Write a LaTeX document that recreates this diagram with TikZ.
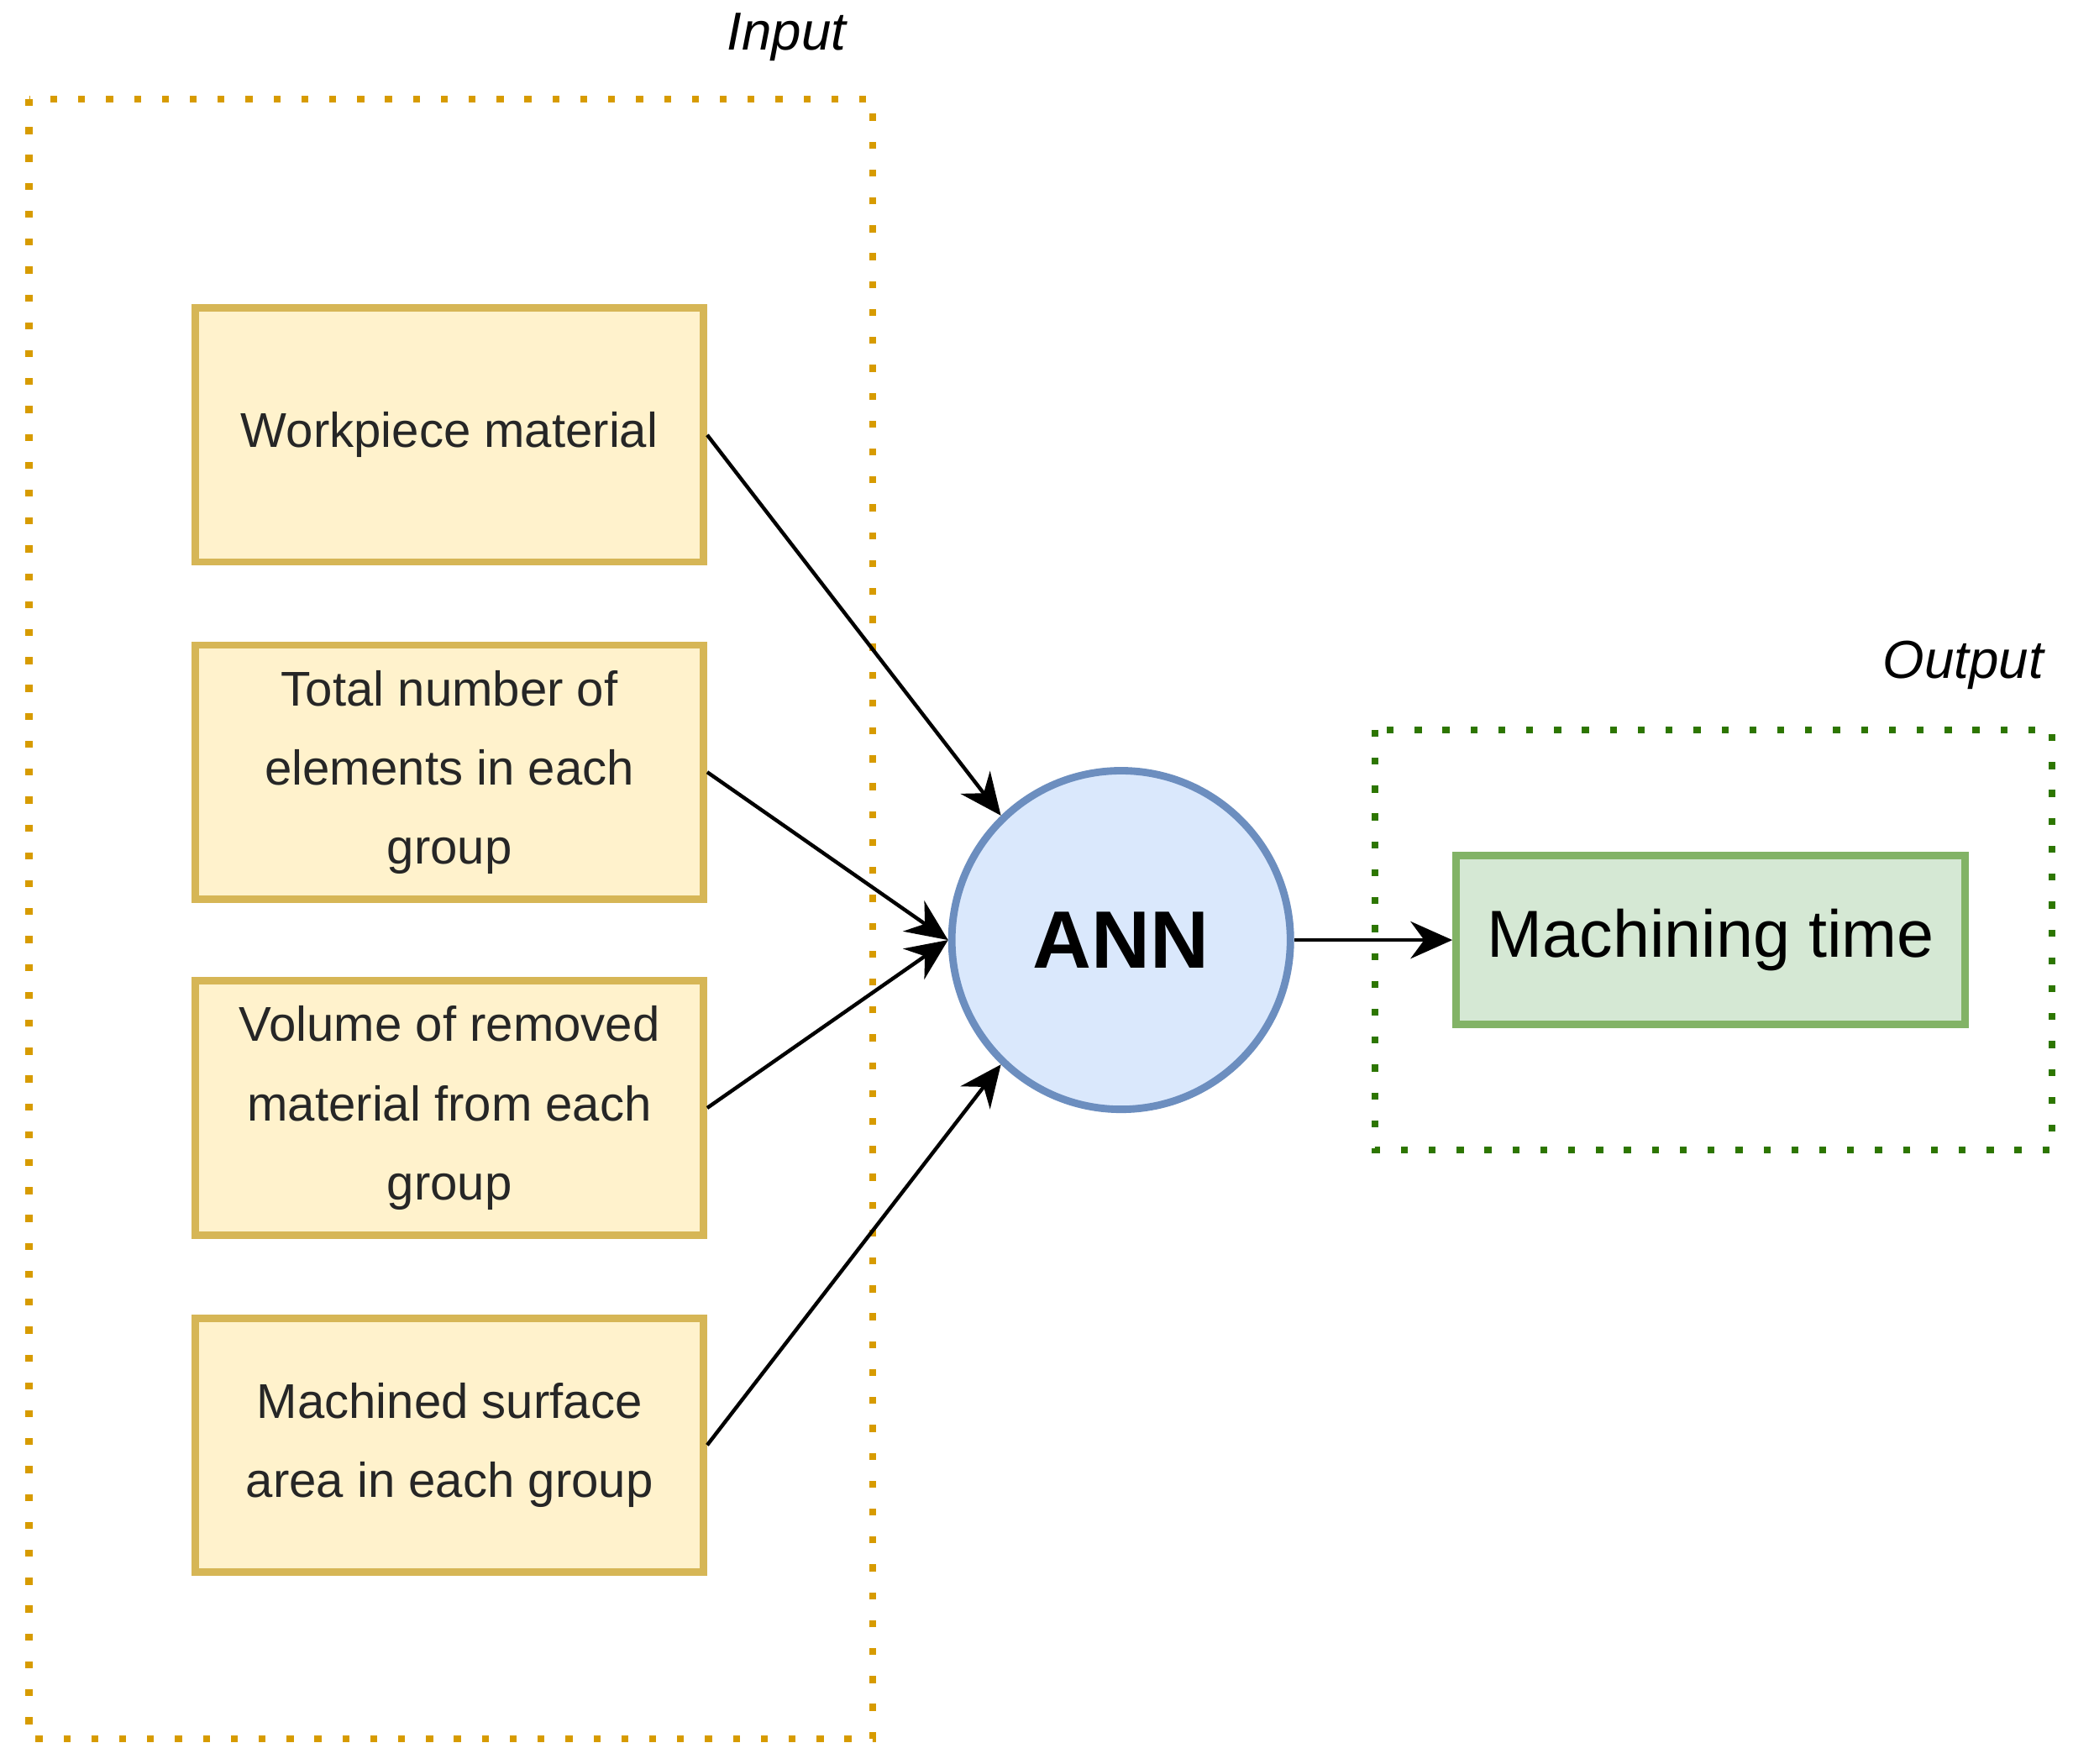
\documentclass[tikz,border=0pt]{standalone}
\usepackage{fontspec}
\setmainfont{Liberation Sans}
\usetikzlibrary{arrows.meta}
\definecolor{yfill}{HTML}{FFF2CC}\definecolor{ydraw}{HTML}{D6B656}
\definecolor{bfill}{HTML}{DAE8FC}\definecolor{bdraw}{HTML}{6C8EBF}
\definecolor{gfill}{HTML}{D5E8D4}\definecolor{gdraw}{HTML}{82B366}
\definecolor{odot}{HTML}{D79B00}\definecolor{gdot}{HTML}{2D7600}
\begin{document}
\begin{tikzpicture}[x=0.01cm,y=-0.01cm,
 inp/.style={draw=ydraw,fill=yfill,line width=1.6pt,minimum width=3.84cm,minimum height=1.92cm,align=center,font=\fontsize{10.5}{17}\selectfont,text=black!85},
 dotbox/.style={line width=1.5pt,dash pattern=on 1.5pt off 4.5pt},
 arr/.style={-{Stealth[length=9pt,width=8pt]},line width=0.8pt}]
\useasboundingbox (0,0) rectangle (1568,1334);
\draw[dotbox,odot] (22,75) rectangle (660,1315);
\draw[dotbox,gdot] (1040,552) rectangle (1552,870);
\node[font=\itshape\fontsize{11.5}{14}\selectfont] (lin) at (595,28) {Input};
\node[font=\itshape\fontsize{11.5}{14}\selectfont] (lout) at (1485,503) {Output};
\node[inp] (a) at (340,329) {Workpiece material};
\node[inp] (b) at (340,584) {Total number of\\elements in each\\group};
\node[inp] (c) at (340,838) {Volume of removed\\material from each\\group};
\node[inp] (d) at (340,1093) {Machined surface\\area in each group};
\node[circle,draw=bdraw,fill=bfill,line width=1.6pt,minimum size=2.56cm,font=\bfseries\fontsize{17.5}{20}\selectfont] (n) at (848,711) {ANN};
\node[draw=gdraw,fill=gfill,line width=1.6pt,minimum width=3.85cm,minimum height=1.28cm,font=\fontsize{14.3}{17}\selectfont] (m) at (1294,711) {Machining time};
\draw[arr] (a.east) -- (n.134);
\draw[arr] (b.east) -- (n.180);
\draw[arr] (c.east) -- (n.180);
\draw[arr] (d.east) -- (n.226);
\draw[arr] (n.east) -- (m.west);
\end{tikzpicture}
\end{document}
